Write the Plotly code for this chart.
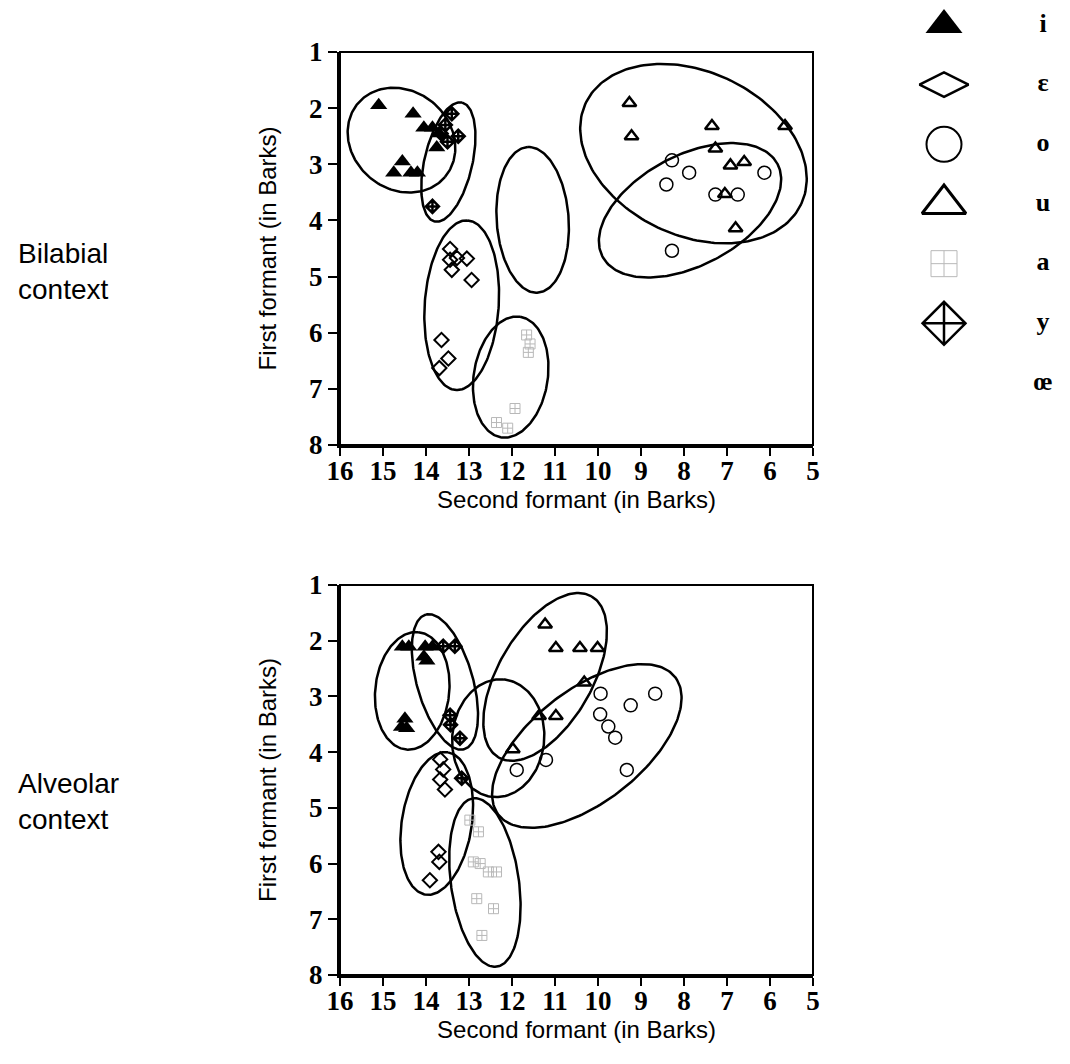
import numpy as np
import plotly.graph_objects as go

# ---------------- data (F2 in Barks, F1 in Barks) ----------------
# Bilabial context
bil_i_f2 = [15.1, 14.3, 14.05, 13.85, 13.7, 13.75, 14.55, 14.75, 14.35, 14.2]
bil_i_f1 = [1.95, 2.1, 2.35, 2.35, 2.45, 2.7, 2.95, 3.15, 3.15, 3.15]
bil_y_f2 = [13.4, 13.55, 13.25, 13.5, 13.65, 13.85]
bil_y_f1 = [2.1, 2.3, 2.5, 2.6, 2.45, 3.75]
bil_e_f2 = [13.44, 13.44, 13.28, 13.4, 13.05, 12.94, 13.64, 13.48, 13.69]
bil_e_f1 = [4.51, 4.7, 4.67, 4.88, 4.68, 5.06, 6.13, 6.46, 6.63]
bil_a_f2 = [11.66, 11.58, 11.62, 11.93, 12.36, 12.1]
bil_a_f1 = [6.04, 6.2, 6.35, 7.35, 7.6, 7.7]
bil_u_f2 = [9.27, 9.22, 7.35, 5.65, 7.27, 6.92, 6.6, 7.05, 6.8]
bil_u_f1 = [1.91, 2.5, 2.32, 2.32, 2.72, 3.02, 2.96, 3.53, 4.14]
bil_o_f2 = [8.28, 7.88, 8.41, 6.13, 7.27, 6.75, 8.28]
bil_o_f1 = [2.93, 3.15, 3.36, 3.15, 3.54, 3.54, 4.54]

# Alveolar context
alv_i_f2 = [14.55, 14.4, 14.02, 13.85, 14.05, 13.98, 14.49, 14.57, 14.45]
alv_i_f1 = [2.11, 2.11, 2.11, 2.11, 2.29, 2.36, 3.4, 3.55, 3.57]
alv_y_f2 = [13.6, 13.33, 13.44, 13.43, 13.21, 13.17]
alv_y_f1 = [2.1, 2.1, 3.34, 3.51, 3.75, 4.47]
alv_e_f2 = [13.67, 13.6, 13.67, 13.56, 13.71, 13.69, 13.91]
alv_e_f1 = [4.13, 4.31, 4.49, 4.67, 5.79, 5.97, 6.3]
alv_a_f2 = [12.98, 12.78, 12.9, 12.74, 12.55, 12.36, 12.82, 12.43, 12.7]
alv_a_f1 = [5.22, 5.43, 5.97, 6.0, 6.15, 6.15, 6.63, 6.81, 7.29]
alv_u_f2 = [11.23, 10.98, 10.42, 10.01, 10.32, 11.37, 10.98, 11.98]
alv_u_f1 = [1.71, 2.13, 2.13, 2.13, 2.75, 3.35, 3.35, 3.95]
alv_o_f2 = [9.94, 8.67, 9.24, 9.95, 9.76, 9.6, 11.21, 11.89, 9.33]
alv_o_f1 = [2.95, 2.95, 3.16, 3.32, 3.54, 3.74, 4.14, 4.32, 4.32]

# Dispersion ellipses: centre F2, centre F1, semi-axes (px), tilt (deg)
bil_ell_cx = [14.57, 13.48, 13.17, 12.03, 11.52, 7.78, 7.86]
bil_ell_cy = [2.57, 2.96, 5.51, 6.79, 3.99, 2.81, 3.82]
bil_ell_a = [57, 61, 85, 61, 73, 119, 99]
bil_ell_b = [49, 24, 37, 37, 36, 82, 55]
bil_ell_ang = [-40, 77, 86, 81, 94, -25, 28]

alv_ell_cx = [14.32, 13.56, 13.75, 12.63, 12.32, 11.23, 10.26]
alv_ell_cy = [2.9, 2.74, 5.28, 6.34, 3.75, 2.65, 3.89]
alv_ell_a = [59, 70, 72, 85, 59, 93, 112]
alv_ell_b = [37, 28, 35, 34, 46, 47, 56]
alv_ell_ang = [84, 106, 81, 98, 85, 60, 38]

legend_labels = ["i", "\u025b", "o", "u", "a", "y", "\u0153"]

x_ticks = list(range(16, 4, -1))
y_ticks = list(range(1, 9))

# ---------------- layout geometry ----------------
OFF = 8                      # page body margin
W, H = 1070 - OFF, 1064 - OFF


def px_x(p):
    return (p - OFF) / W


def px_y(p):
    return 1 - (p - OFF) / H


XDOM = [px_x(340), px_x(813)]
YDOM_TOP = [px_y(445), px_y(52)]
YDOM_BOT = [px_y(975), px_y(585)]
X_RANGE = [16, 5]
Y_RANGE = [8, 1]

kx = W * (XDOM[1] - XDOM[0]) / (X_RANGE[0] - X_RANGE[1])


def ellipse(cx, cy, a, b, ang, ydom):
    ky = H * (ydom[1] - ydom[0]) / (Y_RANGE[0] - Y_RANGE[1])
    t = np.linspace(0, 2 * np.pi, 200)
    th = np.deg2rad(ang)
    dx = a * np.cos(t) * np.cos(th) - b * np.sin(t) * np.sin(th)
    dy = a * np.cos(t) * np.sin(th) + b * np.sin(t) * np.cos(th)
    return cx - dx / kx, cy - dy / ky


fig = go.Figure()

BLACK = "black"
GRAY = "#b8b8b8"

styles = {
    "i": dict(symbol="triangle-up", size=15, color=BLACK, line=dict(width=0)),
    "y": dict(symbol="diamond-cross-open", size=10, color=BLACK, line=dict(width=2.5, color=BLACK)),
    "e": dict(symbol="diamond-open", size=11, color=BLACK, line=dict(width=2, color=BLACK)),
    "a": dict(symbol="square-cross-open", size=10, color=GRAY, line=dict(width=1, color=GRAY)),
    "u": dict(symbol="triangle-up-open", size=12, color=BLACK, line=dict(width=2.5, color=BLACK)),
    "o": dict(symbol="circle-open", size=13, color=BLACK, line=dict(width=1.5, color=BLACK)),
}

panels = [
    ("x", "y", YDOM_TOP,
     dict(i=(bil_i_f2, bil_i_f1), y=(bil_y_f2, bil_y_f1), e=(bil_e_f2, bil_e_f1),
          a=(bil_a_f2, bil_a_f1), u=(bil_u_f2, bil_u_f1), o=(bil_o_f2, bil_o_f1)),
     (bil_ell_cx, bil_ell_cy, bil_ell_a, bil_ell_b, bil_ell_ang)),
    ("x2", "y2", YDOM_BOT,
     dict(i=(alv_i_f2, alv_i_f1), y=(alv_y_f2, alv_y_f1), e=(alv_e_f2, alv_e_f1),
          a=(alv_a_f2, alv_a_f1), u=(alv_u_f2, alv_u_f1), o=(alv_o_f2, alv_o_f1)),
     (alv_ell_cx, alv_ell_cy, alv_ell_a, alv_ell_b, alv_ell_ang)),
]

for xa, ya, ydom, pts, ell in panels:
    for cx, cy, a, b, ang in zip(*ell):
        ex, ey = ellipse(cx, cy, a, b, ang, ydom)
        fig.add_trace(go.Scatter(x=ex, y=ey, mode="lines", xaxis=xa, yaxis=ya,
                                 line=dict(color=BLACK, width=2.5), showlegend=False,
                                 hoverinfo="skip"))
    for key in ["a", "e", "o", "u", "i", "y"]:
        xs, ys = pts[key]
        fig.add_trace(go.Scatter(x=xs, y=ys, mode="markers", xaxis=xa, yaxis=ya,
                                 marker=styles[key], showlegend=False))

# legend panel
leg_styles = [
    dict(symbol="triangle-up", size=32, color=BLACK, line=dict(width=0)),
    dict(symbol="diamond-wide-open", size=35, color=BLACK, line=dict(width=2.5, color=BLACK)),
    dict(symbol="circle-open", size=35, color=BLACK, line=dict(width=2, color=BLACK)),
    dict(symbol="triangle-up-open", size=38, color=BLACK, line=dict(width=3, color=BLACK)),
    dict(symbol="square-cross-open", size=26, color=GRAY, line=dict(width=1, color="#d0d0d0")),
    dict(symbol="diamond-cross-open", size=33, color=BLACK, line=dict(width=2.5, color=BLACK)),
]
LEG_XDOM = [px_x(900), 1.0]
LEG_YDOM = [px_y(425), 1.0]
for idx, st in enumerate(leg_styles):
    fig.add_trace(go.Scatter(x=[0], y=[idx], mode="markers", xaxis="x3", yaxis="y3",
                             marker=st, showlegend=False))
fig.add_trace(go.Scatter(x=[1] * len(legend_labels), y=list(range(len(legend_labels))),
                         mode="text", text=legend_labels, xaxis="x3", yaxis="y3",
                         textfont=dict(family="Liberation Serif", size=26, color=BLACK, weight="bold"),
                         showlegend=False))

tickfont = dict(family="Liberation Serif", size=27, color=BLACK, weight="bold")
titlefont = dict(family="Liberation Sans", size=24, color=BLACK)


def xaxis(anchor):
    return dict(domain=XDOM, range=X_RANGE, anchor=anchor, tickvals=x_ticks,
                ticktext=[str(v) for v in x_ticks], ticks="outside", ticklen=8,
                tickwidth=2, tickcolor=BLACK, showline=True, linewidth=3, linecolor=BLACK,
                showgrid=False, zeroline=False, tickfont=tickfont, automargin=False,
                ticklabelstandoff=-8,
                title=dict(text="Second formant (in Barks)", font=titlefont, standoff=0))


def yaxis(anchor, dom):
    return dict(domain=dom, range=Y_RANGE, anchor=anchor, tickvals=y_ticks,
                ticktext=[str(v) for v in y_ticks], ticks="outside", ticklen=9,
                tickwidth=2, tickcolor=BLACK, showline=True, linewidth=3, linecolor=BLACK,
                showgrid=False, zeroline=False, tickfont=tickfont, automargin=False,
                title=dict(text="First formant (in Barks)", font=titlefont, standoff=26))


# legend axes: symbol column at px 944, label column at px 1043; rows from 25 to 383 px
lx0 = (900 - OFF)
sym_px, lab_px = 944 - OFF, 1043 - OFF
unit = (lab_px - sym_px)
leg_x_range = [-(sym_px - lx0) / unit, (W - sym_px) / unit]
lh = H * (LEG_YDOM[1] - LEG_YDOM[0])
row0, row_step = 25 - OFF, (383 - 25) / 6
leg_y_range = [(lh - row0) / row_step, -row0 / row_step]

fig.update_layout(
    width=W, height=H, margin=dict(l=0, r=0, t=0, b=0, autoexpand=False),
    paper_bgcolor="white", plot_bgcolor="white", showlegend=False,
    xaxis=xaxis("y"), yaxis=yaxis("x", YDOM_TOP),
    xaxis2=xaxis("y2"), yaxis2=yaxis("x2", YDOM_BOT),
    xaxis3=dict(domain=LEG_XDOM, range=leg_x_range, anchor="y3", visible=False,
                automargin=False),
    yaxis3=dict(domain=LEG_YDOM, range=leg_y_range, anchor="x3", visible=False,
                automargin=False),
)

# frame (top/right edges)
for xr, yr in [("x domain", "y domain"), ("x2 domain", "y2 domain")]:
    fig.add_shape(type="rect", xref=xr, yref=yr, x0=0, x1=1, y0=0, y1=1,
                  line=dict(color=BLACK, width=2), layer="above")

side_font = dict(family="Liberation Sans", size=28, color=BLACK)
fig.add_annotation(text="Bilabial<br>context", xref="paper", yref="paper",
                   x=px_x(16), y=px_y(271), xanchor="left", yanchor="middle",
                   showarrow=False, align="left", font=side_font)
fig.add_annotation(text="Alveolar<br>context", xref="paper", yref="paper",
                   x=px_x(16), y=px_y(801), xanchor="left", yanchor="middle",
                   showarrow=False, align="left", font=side_font)

fig.write_html("out.html")
